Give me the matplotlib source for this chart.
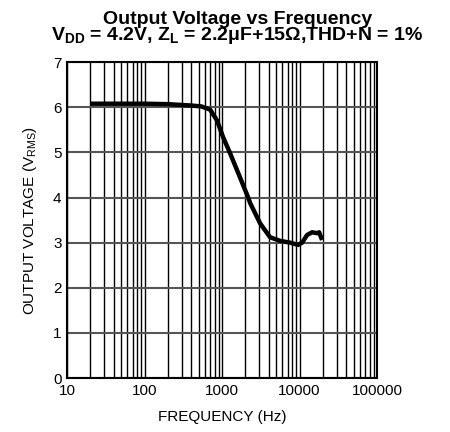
import numpy as np
import matplotlib
matplotlib.use('Agg')
import matplotlib.pyplot as plt
from matplotlib.ticker import FixedLocator, NullFormatter

plt.rcParams['font.family'] = ['Liberation Sans', 'DejaVu Sans']
plt.rcParams['mathtext.fontset'] = 'custom'
plt.rcParams['mathtext.rm'] = 'Liberation Sans'
plt.rcParams['mathtext.bf'] = 'Liberation Sans:bold'
plt.rcParams['mathtext.it'] = 'Liberation Sans:italic'

## curve
freq = [20, 50, 100, 200, 400, 540, 700, 860, 1030, 1270, 1700, 2160,
        2300, 3090, 4160, 5600, 7540, 9570, 10770, 12500, 14500, 16800,
        17870, 19500]
vout = [6.08, 6.08, 6.08, 6.07, 6.04, 6.02, 5.95, 5.71, 5.34, 4.98, 4.45, 4.01,
        3.88, 3.43, 3.12, 3.04, 3.00, 2.95, 3.00, 3.17, 3.23, 3.21,
        3.23, 3.06]

xticks = [10, 100, 1000, 10000, 100000]
xticklabels = ['10', '100', '1000', '10000', '100000']
yticks = [0, 1, 2, 3, 4, 5, 6, 7]

fig = plt.figure(figsize=(4.5, 4.32), dpi=100, facecolor='w')
ax = fig.add_axes([0.149, 0.125, 0.689, 0.731])

ax.set_xscale('log')
ax.set_xlim(10, 100000)
ax.set_ylim(0, 7)

# grid: minor + major verticals black, horizontals grey
minors = [m * 10**d for d in range(1, 5) for m in range(2, 10)]
ax.xaxis.set_minor_locator(FixedLocator(minors))
ax.xaxis.set_minor_formatter(NullFormatter())
ax.set_xticks(xticks)
ax.set_xticklabels(xticklabels)
ax.set_yticks(yticks)
ax.grid(which='both', axis='x', color='k', lw=1.0)
ax.grid(which='major', axis='y', color='#555555', lw=1.5)
ax.tick_params(which='both', length=0, labelsize=11, pad=4)

ax.plot(freq, vout, color='k', lw=3.2, solid_capstyle='butt')

for s in ax.spines.values():
    s.set_linewidth(1.5)

ax.set_xlabel('FREQUENCY (Hz)', fontsize=11, labelpad=9)
ax.set_ylabel(r'OUTPUT VOLTAGE (V$_\mathrm{RMS}$)', fontsize=11, labelpad=10)

fig.text(0.527, 0.975,
         'Output Voltage vs Frequency\n'
         r'V$_\mathbf{DD}$ = 4.2V, Z$_\mathbf{L}$ = 2.2μF+15Ω,THD+N = 1%',
         ha='center', va='top', multialignment='center', linespacing=0.8,
         fontsize=14, fontweight='bold')

plt.savefig('out.png', dpi=100)
